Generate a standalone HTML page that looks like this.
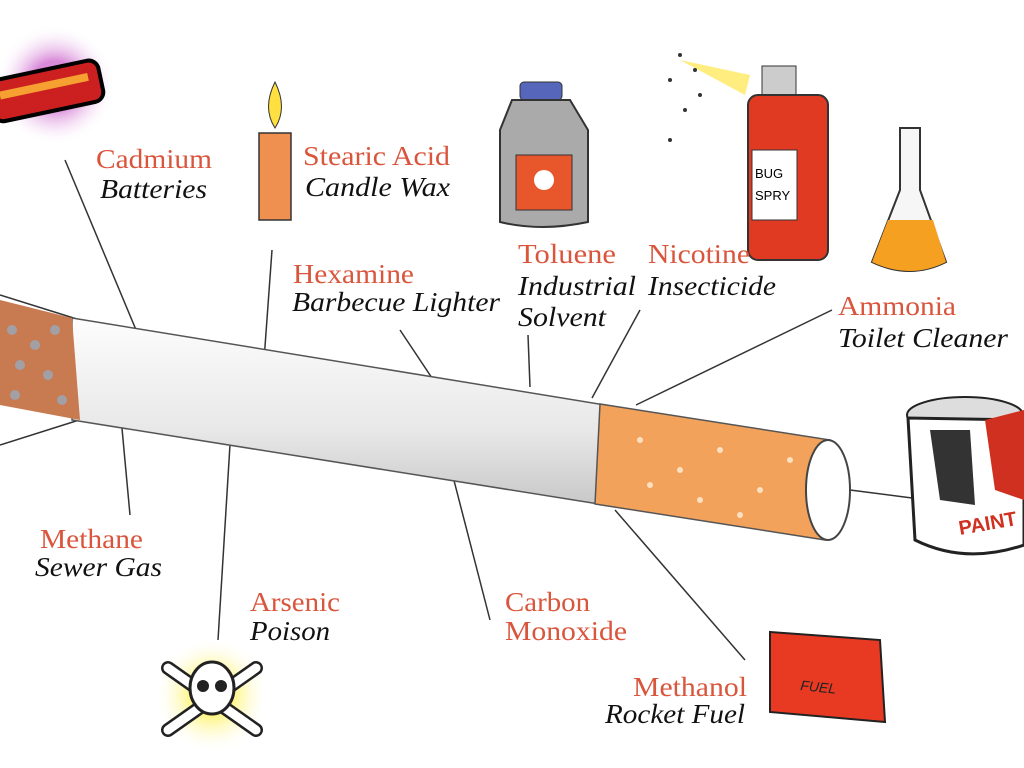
<!DOCTYPE html>
<html><head><meta charset="utf-8"><style>
body{margin:0;background:#fff;width:1024px;height:768px;overflow:hidden}
svg{display:block}
.r{fill:#d9553c;font-family:"Liberation Serif",serif;font-size:27px}
.b{fill:#111;font-family:"Liberation Serif",serif;font-size:27px;font-style:italic}
</style></head><body>
<svg width="1024" height="768" viewBox="0 0 1024 768">
<defs>
<linearGradient id="cg" x1="0" y1="0" x2="0" y2="1"><stop offset="0" stop-color="#fdfdfd"/><stop offset="0.6" stop-color="#e8e8e8"/><stop offset="1" stop-color="#c8c8c8"/></linearGradient>
<radialGradient id="glow"><stop offset="0.3" stop-color="#fff36a"/><stop offset="1" stop-color="#fff" stop-opacity="0"/></radialGradient>
<radialGradient id="pglow"><stop offset="0.4" stop-color="#d98ad9"/><stop offset="1" stop-color="#fff" stop-opacity="0"/></radialGradient>
</defs>
<g stroke="#333" stroke-width="1.5" fill="none">
<line x1="65" y1="160" x2="162" y2="392"/>
<line x1="272" y1="250" x2="262" y2="388"/>
<line x1="400" y1="330" x2="460" y2="420"/>
<line x1="528" y1="335" x2="530" y2="387"/>
<line x1="640" y1="310" x2="592" y2="398"/>
<line x1="832" y1="310" x2="636" y2="405"/>
<line x1="130" y1="515" x2="118" y2="385"/>
<line x1="218" y1="640" x2="232" y2="412"/>
<line x1="490" y1="620" x2="450" y2="465"/>
<line x1="745" y1="660" x2="615" y2="510"/>
<line x1="850" y1="490" x2="912" y2="498"/>
<line x1="0" y1="445" x2="95" y2="415"/>
<line x1="0" y1="295" x2="80" y2="320"/>
</g>
<polygon points="72,318 605,405 605,505 72,420" fill="url(#cg)" stroke="#555" stroke-width="1.5"/>
<polygon points="600,404 830,440 825,540 595,504" fill="#f3a25c" stroke="#555" stroke-width="1.5"/>
<g fill="#fde0c0"><circle cx="640" cy="440" r="3"/><circle cx="680" cy="470" r="3"/><circle cx="720" cy="450" r="3"/><circle cx="760" cy="490" r="3"/><circle cx="700" cy="500" r="3"/><circle cx="650" cy="485" r="3"/><circle cx="790" cy="460" r="3"/><circle cx="740" cy="515" r="3"/></g>
<ellipse cx="828" cy="490" rx="22" ry="50" fill="#fff" stroke="#444" stroke-width="2"/>
<polygon points="0,300 72,318 80,420 0,405" fill="#c87a50"/>
<g fill="#9ab" opacity="0.8"><circle cx="12" cy="330" r="5"/><circle cx="35" cy="345" r="5"/><circle cx="55" cy="330" r="5"/><circle cx="20" cy="365" r="5"/><circle cx="48" cy="375" r="5"/><circle cx="15" cy="395" r="5"/><circle cx="62" cy="400" r="5"/></g>
<circle cx="55" cy="85" r="60" fill="url(#pglow)"/>
<g transform="rotate(-12 55 90)"><rect x="-10" y="68" width="112" height="42" rx="10" fill="#cc2020" stroke="#000" stroke-width="4"/><rect x="0" y="80" width="90" height="8" fill="#f5a030"/></g>
<rect x="259" y="133" width="32" height="87" fill="#f09050" stroke="#333" stroke-width="1.5"/>
<path d="M275 82 Q262 108 275 128 Q288 108 275 82Z" fill="#ffe040" stroke="#333"/>
<rect x="520" y="82" width="42" height="18" rx="4" fill="#5566bb" stroke="#333"/>
<path d="M512 100 L570 100 L588 130 L588 222 Q541 232 500 222 L500 130Z" fill="#aaa" stroke="#333" stroke-width="2"/>
<rect x="516" y="155" width="56" height="55" fill="#e8562c" stroke="#333"/>
<circle cx="544" cy="180" r="10" fill="#fff"/>
<path d="M680 60 L750 75 L745 95Z" fill="#ffe860" opacity="0.8"/>
<g fill="#333"><circle cx="680" cy="55" r="2"/><circle cx="695" cy="70" r="2"/><circle cx="670" cy="80" r="2"/><circle cx="700" cy="95" r="2"/><circle cx="685" cy="110" r="2"/><circle cx="670" cy="140" r="2"/></g>
<rect x="762" y="66" width="34" height="30" fill="#ccc" stroke="#333"/>
<rect x="748" y="95" width="80" height="165" rx="10" fill="#e03a22" stroke="#333" stroke-width="2"/>
<rect x="752" y="150" width="45" height="70" fill="#fff" stroke="#333"/>
<text x="755" y="178" font-family="Liberation Sans" font-size="13">BUG</text>
<text x="755" y="200" font-family="Liberation Sans" font-size="13">SPRY</text>
<path d="M900 128 L920 128 L920 190 L946 262 Q910 280 872 262 L900 190Z" fill="#f6f6f6" stroke="#333" stroke-width="2"/>
<path d="M888 220 L933 220 L946 262 Q910 280 872 262Z" fill="#f5a020"/>
<ellipse cx="965" cy="415" rx="58" ry="18" fill="#ddd" stroke="#222" stroke-width="2"/>
<path d="M908 418 L915 540 Q965 565 1024 545 L1024 420Z" fill="#fff" stroke="#222" stroke-width="3"/>
<path d="M930 430 L940 500 L975 505 L970 430Z" fill="#333"/>
<path d="M985 420 L1024 410 L1024 500 L995 490Z" fill="#d03020"/>
<text x="960" y="535" font-family="Liberation Sans" font-weight="bold" font-size="20" fill="#d03020" transform="rotate(-10 960 535)">PAINT</text>
<path d="M770 632 L880 640 L885 722 L770 712Z" fill="#e83a22" stroke="#222" stroke-width="2"/>
<text x="800" y="690" font-family="Liberation Sans" font-size="14" font-style="italic" fill="#222" transform="rotate(6 800 690)">FUEL</text>
<circle cx="212" cy="695" r="58" fill="url(#glow)"/>
<g stroke="#222" stroke-width="14" stroke-linecap="round"><line x1="168" y1="668" x2="256" y2="730"/><line x1="168" y1="730" x2="256" y2="668"/></g>
<g stroke="#fff" stroke-width="9" stroke-linecap="round"><line x1="168" y1="668" x2="256" y2="730"/><line x1="168" y1="730" x2="256" y2="668"/></g>
<ellipse cx="212" cy="688" rx="22" ry="26" fill="#fff" stroke="#222" stroke-width="3"/>
<circle cx="203" cy="686" r="6" fill="#222"/><circle cx="221" cy="686" r="6" fill="#222"/>
<g lengthAdjust="spacingAndGlyphs">
<text class="r" x="96" y="168" textLength="116" lengthAdjust="spacingAndGlyphs">Cadmium</text><text class="b" x="100" y="198" textLength="107" lengthAdjust="spacingAndGlyphs">Batteries</text>
<text class="r" x="303" y="165" textLength="147" lengthAdjust="spacingAndGlyphs">Stearic Acid</text><text class="b" x="305" y="196" textLength="145" lengthAdjust="spacingAndGlyphs">Candle Wax</text>
<text class="r" x="293" y="283" textLength="121" lengthAdjust="spacingAndGlyphs">Hexamine</text><text class="b" x="292" y="311" textLength="208" lengthAdjust="spacingAndGlyphs">Barbecue Lighter</text>
<text class="r" x="518" y="263" textLength="98" lengthAdjust="spacingAndGlyphs">Toluene</text><text class="b" x="518" y="295" textLength="118" lengthAdjust="spacingAndGlyphs">Industrial</text><text class="b" x="518" y="326" textLength="88" lengthAdjust="spacingAndGlyphs">Solvent</text>
<text class="r" x="648" y="263" textLength="102" lengthAdjust="spacingAndGlyphs">Nicotine</text><text class="b" x="648" y="295" textLength="128" lengthAdjust="spacingAndGlyphs">Insecticide</text>
<text class="r" x="838" y="315" textLength="118" lengthAdjust="spacingAndGlyphs">Ammonia</text><text class="b" x="838" y="347" textLength="170" lengthAdjust="spacingAndGlyphs">Toilet Cleaner</text>
<text class="r" x="40" y="548" textLength="103" lengthAdjust="spacingAndGlyphs">Methane</text><text class="b" x="35" y="576" textLength="127" lengthAdjust="spacingAndGlyphs">Sewer Gas</text>
<text class="r" x="250" y="611" textLength="90" lengthAdjust="spacingAndGlyphs">Arsenic</text><text class="b" x="250" y="640" textLength="80" lengthAdjust="spacingAndGlyphs">Poison</text>
<text class="r" x="505" y="611" textLength="85" lengthAdjust="spacingAndGlyphs">Carbon</text><text class="r" x="505" y="640" textLength="122" lengthAdjust="spacingAndGlyphs">Monoxide</text>
<text class="r" x="633" y="696" textLength="114" lengthAdjust="spacingAndGlyphs">Methanol</text><text class="b" x="605" y="723" textLength="140" lengthAdjust="spacingAndGlyphs">Rocket Fuel</text>
</g>
</svg>
</body></html>
